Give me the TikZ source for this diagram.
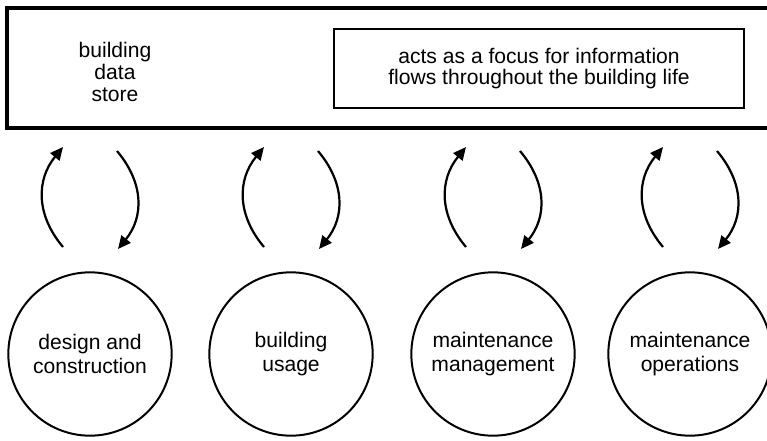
\documentclass[tikz,border=0pt]{standalone}
\usepackage{fontspec}
\setmainfont{Liberation Sans}
\usepackage{tikz}
\usetikzlibrary{arrows.meta,calc}

\begin{document}
\begin{tikzpicture}[x=0.03cm,y=-0.03cm,
    phase/.style={draw,circle,line width=1.7pt,minimum size=4.9cm,inner sep=0pt,
      align=center,font=\fontsize{18}{20.5}\selectfont},
    flow/.style={line width=1.9pt,-{Triangle[length=11pt,width=10pt]}}]
        \clip (0,0) rectangle (767,440);
        % data store frame, open to the right
        \draw[line width=3.8pt] (790,8) -- (7,8) -- (7,128) -- (790,128);
        \node[align=center,font=\fontsize{18}{18.5}\selectfont] (store) at (115,72) {building\\data\\store};
        \node[draw,line width=1.7pt,minimum width=12.3cm,minimum height=2.37cm,align=center,
          font=\fontsize{18}{18}\selectfont] (focus) at (539,68.5)
          {acts as a focus for information\\flows throughout the building life};
        \foreach \i/\cx/\txt in {1/90/{design and\\construction},2/291/{building\\usage},
            3/493/{maintenance\\management},4/690/{maintenance\\operations}}{
          \node[phase] (c\i) at (\cx,354) {\txt};
        }
        \foreach \i in {1,...,4}{
          \coordinate (up\i) at ($(c\i)+(-27,-107)$);
          \coordinate (upend\i) at ($(c\i)+(-27,-207)$);
          \coordinate (down\i) at ($(c\i)+(27,-203)$);
          \coordinate (downend\i) at ($(c\i)+(28,-105)$);
          \draw[flow] (up\i) .. controls +(-27,-32) and +(-27,33) .. (upend\i);
          \draw[flow] (down\i) .. controls +(27,32) and +(26,-32) .. (downend\i);
        }
      \end{tikzpicture}
\end{document}
